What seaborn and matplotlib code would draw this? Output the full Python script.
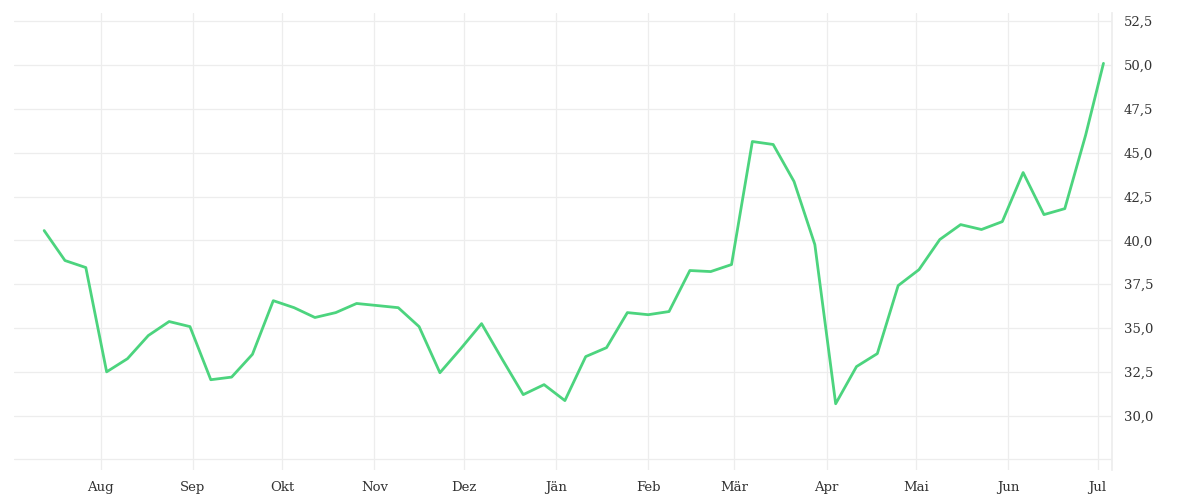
import matplotlib
matplotlib.use("Agg")
import matplotlib.pyplot as plt
import seaborn as sns
import pandas as pd

values = [40.56, 38.85, 38.45, 32.5, 33.25, 34.57, 35.37, 35.08, 32.05, 32.2,
          33.5, 36.56, 36.16, 35.6, 35.88, 36.4, 36.28, 36.16, 35.08, 32.45,
          33.82, 35.25, 33.2, 31.2, 31.77, 30.86, 33.37, 33.88, 35.88, 35.76,
          35.94, 38.28, 38.22, 38.62, 45.64, 45.47, 43.36, 39.76, 30.68, 32.8,
          33.54, 37.42, 38.33, 40.05, 40.9, 40.62, 41.07, 43.87, 41.47, 41.81,
          46.0, 50.1]
dates = list(pd.date_range("2023-07-13", periods=len(values) - 1, freq="7D")) + [pd.Timestamp("2024-07-03")]
month_labels = ["Aug", "Sep", "Okt", "Nov", "Dez", "Jän", "Feb", "Mär", "Apr", "Mai", "Jun", "Jul"]
month_ticks = pd.date_range("2023-08-01", periods=12, freq="MS")
yticks = [30.0, 32.5, 35.0, 37.5, 40.0, 42.5, 45.0, 47.5, 50.0, 52.5]

df = pd.DataFrame({"date": dates, "value": values})

sns.set_theme(style="white")
plt.rcParams["font.family"] = ["DejaVu Serif"]
fig, ax = plt.subplots(figsize=(12, 5), dpi=100)
fig.subplots_adjust(left=0.012, right=0.927, top=0.975, bottom=0.06)

sns.lineplot(data=df, x="date", y="value", ax=ax, color="#4cd47e", linewidth=2.0)

ax.set_xlim(pd.Timestamp("2023-07-03"), pd.Timestamp("2024-07-06"))
ax.set_ylim(26.9, 53.0)
ax.set_xticks(month_ticks)
ax.set_xticklabels(month_labels)
ax.set_yticks(yticks + [27.5])
ax.set_yticklabels([f"{v:.1f}".replace(".", ",") for v in yticks] + [""])
ax.yaxis.tick_right()
ax.grid(True, color="#ededed", linewidth=0.9)
for s in ["top", "left", "bottom"]:
    ax.spines[s].set_visible(False)
ax.spines["right"].set_color("#ededed")
ax.tick_params(axis="both", colors="#333333", labelsize=9.5, length=0, pad=8)
ax.set_xlabel("")
ax.set_ylabel("")
fig.savefig("out.png")
